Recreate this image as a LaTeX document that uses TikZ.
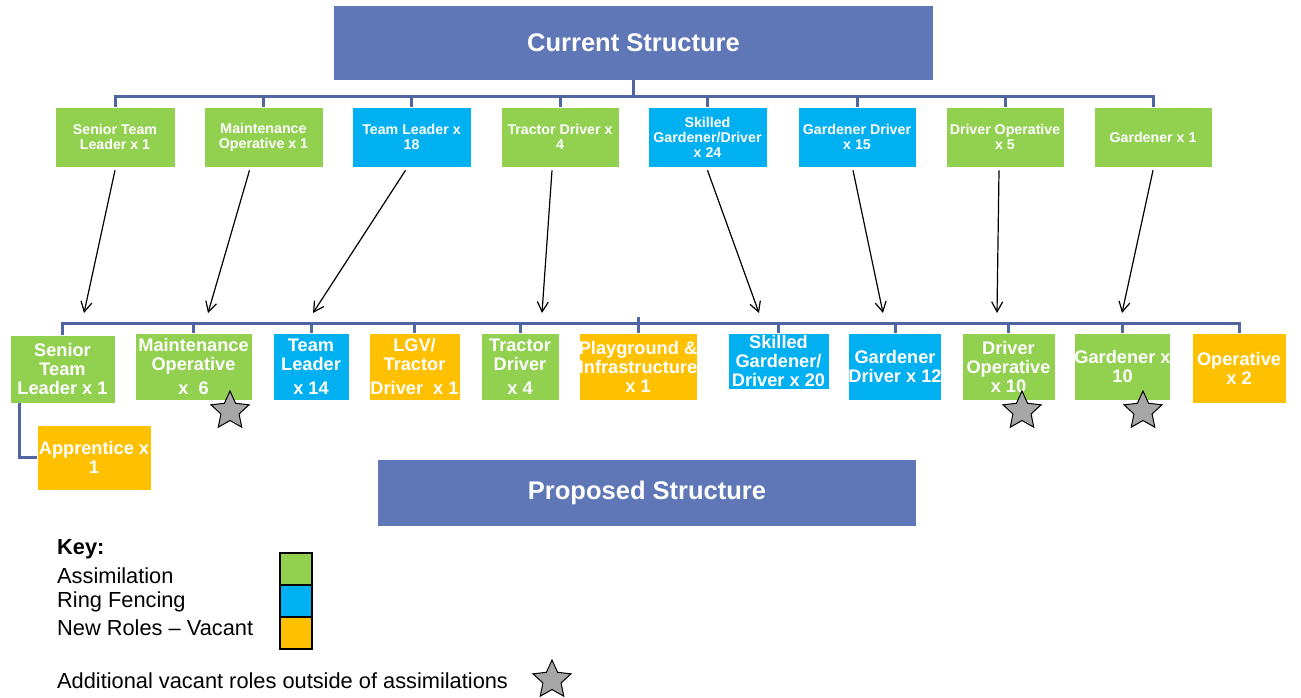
\documentclass[tikz,border=0pt]{standalone}
\usepackage{fontspec}
\setmainfont{Liberation Sans}
\usetikzlibrary{arrows.meta,positioning,shapes.geometric}

\definecolor{assim}{HTML}{92D050}
\definecolor{ring}{HTML}{00B0F0}
\definecolor{vacant}{HTML}{FFC000}
\definecolor{header}{HTML}{5F77B7}
\definecolor{branch}{HTML}{5066A3}
\definecolor{stargray}{HTML}{A6A6A6}

\begin{document}
\begin{tikzpicture}[
    x=1pt, y=-1pt,
    role/.style={rectangle, draw=white, line width=0.6pt, align=center, text=white, inner sep=0pt,
        font=\bfseries\fontsize{14.2}{15}\selectfont, minimum height=60pt},
    newrole/.style={role, font=\bfseries\fontsize{18.2}{19}\selectfont, minimum height=67pt},
    title/.style={rectangle, fill=header, text=white, inner sep=0pt, font=\bfseries\fontsize{25.5}{30}\selectfont},
    branchline/.style={draw=branch, line width=3pt},
    move/.style={-{Straight Barb[length=10pt,width=11pt]}, line width=1.2pt},
    vacstar/.style={star, star points=5, star point ratio=2.1, draw=black, fill=stargray, line width=1pt,
        minimum size=40pt, inner sep=0pt},
    keytext/.style={anchor=west, inner sep=0pt, font=\fontsize{21.8}{24}\selectfont},
    keybox/.style={rectangle, draw=black, line width=1.2pt, minimum width=32pt, minimum height=32pt, inner sep=0pt}
]
\useasboundingbox (0,0) rectangle (1301,697);

% Headers
\node[title, minimum width=599pt, minimum height=74pt] (cur) at (633.5,43) {Current Structure};
\node[title, minimum width=538pt, minimum height=66pt] (prop) at (647,493) {\raisebox{-3pt}{Proposed Structure}};

% Current roles
\node[role, fill=assim, minimum width=120pt] (c1) at (115,137) {Senior Team\\Leader x 1};
\node[role, fill=assim, minimum width=119pt] (c2) at (263.5,137) {Maintenance\\Operative x 1};
\node[role, fill=ring, minimum width=119pt] (c3) at (411.5,137) {Team Leader x\\18};
\node[role, fill=assim, minimum width=118pt] (c4) at (560,137) {Tractor Driver x\\4};
\node[role, fill=ring, minimum width=119pt] (c5) at (707.5,137) {Skilled\\Gardener/Driver\\x 24};
\node[role, fill=ring, minimum width=118pt] (c6) at (857,137) {Gardener Driver\\x 15};
\node[role, fill=assim, minimum width=118pt] (c7) at (1005,137) {Driver Operative\\x 5};
\node[role, fill=assim, minimum width=118pt] (c8) at (1153,137) {Gardener x 1};

% Proposed roles
\node[newrole, fill=assim, minimum width=105pt, minimum height=68pt] (p1) at (62.5,369) {Senior\\Team\\Leader x 1};
\node[newrole, fill=assim, minimum width=117pt] (p2) at (193.5,366.5) {Maintenance\\Operative\\[5pt]x\ \ 6};
\node[newrole, fill=ring, minimum width=76pt] (p3) at (311,366.5) {Team\\Leader\\[5pt]x 14};
\node[newrole, fill=vacant, minimum width=91pt] (p4) at (414.5,366.5) {LGV/\\Tractor\\[5pt]Driver\ \ x 1};
\node[newrole, fill=assim, minimum width=78pt] (p5) at (520,366.5) {Tractor\\Driver\\[5pt]x 4};
\node[newrole, fill=vacant, minimum width=114pt] (p6) at (638,366.5) {Playground \&\\Infrastructure\\x 1};
\node[newrole, fill=ring, minimum width=101pt, minimum height=56pt] (p7) at (778.5,361) {Skilled\\Gardener/\\Driver x 20};
\node[newrole, fill=ring, minimum width=90pt] (p8) at (895,366.5) {Gardener\\Driver x 12};
\node[newrole, fill=assim, minimum width=93pt] (p9) at (1008.5,366.5) {Driver\\Operative\\x 10};
\node[newrole, fill=assim, minimum width=95pt] (p10) at (1122.5,366.5) {Gardener x\\10};
\node[newrole, fill=vacant, minimum width=94pt, minimum height=70pt] (p11) at (1239,368) {Operative\\x 2};
\node[newrole, fill=vacant, minimum width=114pt, minimum height=65pt] (app) at (94,457.5) {Apprentice x\\1};

% Branch lines
\coordinate (toprail) at (0,96);
\coordinate (botrail) at (0,323);
\draw[branchline] (cur.south) -- (cur.south |- toprail);
\draw[branchline] (c1.north) |- (c8.north |- toprail) -- (c8.north);
\foreach \n in {c2,c3,c4,c5,c6,c7}
    \draw[branchline] (\n.north |- toprail) -- (\n.north);
\draw[branchline] (p1.north) |- (p11.north |- botrail) -- (p11.north);
\foreach \n in {p2,p3,p4,p5,p7,p8,p9,p10}
    \draw[branchline] (\n.north |- botrail) -- (\n.north);
\draw[branchline] ([yshift=6pt]p6.north |- botrail) -- (p6.north);
\draw[branchline] ([xshift=-43.5pt]p1.south) |- (app.west);

% Moves
\coordinate (a1) at (84,313);
\coordinate (a2) at (208,313);
\coordinate (a3) at (313,313);
\coordinate (a4) at (542,313);
\coordinate (a5) at (759,313);
\coordinate (a6) at (883,313);
\coordinate (a7) at (997,313);
\coordinate (a8) at (1122,313);
\draw[move] ([shift={(0,3)}]c1.south) -- (a1);
\draw[move] ([shift={(-14,3)}]c2.south) -- (a2);
\draw[move] ([shift={(-6,3)}]c3.south) -- (a3);
\draw[move] ([shift={(-8,3)}]c4.south) -- (a4);
\draw[move] ([shift={(0,3)}]c5.south) -- (a5);
\draw[move] ([shift={(-4,3)}]c6.south) -- (a6);
\draw[move] ([shift={(-6,3)}]c7.south) -- (a7);
\draw[move] ([shift={(0,3)}]c8.south) -- (a8);

% Vacant stars
\node[vacstar] (s1) at (230,411) {};
\node[vacstar] (s2) at (1022,411) {};
\node[vacstar] (s3) at (1143,411) {};

% Key
\node[keytext, font=\bfseries\fontsize{21.8}{24}\selectfont] (keyhead) at (57,549) {Key:};
\node[keytext] (key1) at (57,576) {Assimilation};
\node[keytext] (key2) at (57,602) {Ring Fencing};
\node[keytext] (key3) at (57,628) {New Roles -- Vacant};
\node[keybox, fill=assim] (k1) at (296,569) {};
\node[keybox, fill=ring] (k2) at (296,601) {};
\node[keybox, fill=vacant] (k3) at (296,633) {};
\node[keytext] (key4) at (57,681) {Additional vacant roles outside of assimilations};
\node[vacstar] (s4) at (552,680) {};

\end{tikzpicture}
\end{document}
